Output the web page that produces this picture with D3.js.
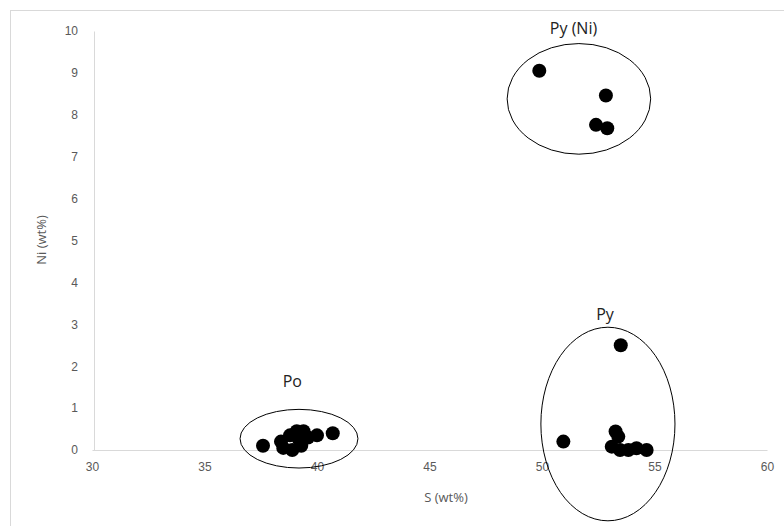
<!DOCTYPE html>
<html>
<head>
<meta charset="utf-8">
<script src="https://cdn.jsdelivr.net/npm/d3@7"></script>
<style>
  body { margin: 0; background: #fff; }
  svg { display: block; font-family: "Open Sans", "Noto Sans", sans-serif; }
</style>
</head>
<body>
<div id="chart"></div>
<script>
// S (wt%) vs Ni (wt%) measurements
const poS = [37.6, 38.4, 38.5, 38.8, 38.9, 39.1, 39.2, 39.3, 39.4, 39.6, 40.0, 40.7];
const poNi = [0.1, 0.2, 0.05, 0.35, 0.0, 0.45, 0.25, 0.1, 0.45, 0.3, 0.35, 0.4];
const pyS = [53.5, 50.95, 53.27, 53.39, 53.1, 53.47, 53.84, 54.2, 54.65];
const pyNi = [2.5, 0.2, 0.44, 0.32, 0.08, 0.0, 0.0, 0.04, 0.0];
const pyNiS = [49.88, 52.84, 52.4, 52.9];
const pyNiNi = [9.05, 8.46, 7.76, 7.68];

// group outlines: centre and radii in data units
const groupNames = ["Po", "Py", "Py (Ni)"];
const groupCx = [39.2, 52.93, 51.64];
const groupCy = [0.27, 0.62, 8.38];
const groupRx = [2.62, 2.98, 3.19];
const groupRy = [0.70, 2.31, 1.32];
// where each group name sits (data units, baseline)
const labelS = [38.9, 52.8, 51.4];
const labelNi = [1.5, 3.1, 9.93];

const xTicks = [30, 35, 40, 45, 50, 55, 60];
const yTicks = [0, 1, 2, 3, 4, 5, 6, 7, 8, 9, 10];

const width = 784, height = 526;
const svg = d3.select("#chart").append("svg")
    .attr("width", width)
    .attr("height", height);

// chart area border
svg.append("rect")
    .attr("x", 10.5).attr("y", 10.5)
    .attr("width", 800).attr("height", 600)
    .attr("fill", "none")
    .attr("stroke", "#d9d9d9");

const x = d3.scaleLinear().domain([30, 60]).range([92, 767]);
const y = d3.scaleLinear().domain([0, 10]).range([450, 31]);

// x axis
const xAxis = svg.append("g")
    .attr("transform", `translate(0,${y(0)})`)
    .call(d3.axisBottom(x).tickValues(xTicks).tickSize(0).tickPadding(12));
xAxis.select(".domain").attr("stroke", "#d9d9d9");
xAxis.selectAll("text").attr("fill", "#595959").style("font-size", "12px");

// y axis
const yAxis = svg.append("g")
    .attr("transform", `translate(${x(30) + 2},0)`)
    .call(d3.axisLeft(y).tickValues(yTicks).tickSize(0).tickPadding(16));
yAxis.select(".domain").attr("stroke", "#d9d9d9");
yAxis.selectAll("text").attr("fill", "#595959").style("font-size", "12px");

// axis titles
svg.append("text")
    .attr("x", 446).attr("y", 502)
    .attr("text-anchor", "middle")
    .attr("fill", "#595959")
    .style("font-size", "13px")
    .text("S (wt%)");

svg.append("text")
    .attr("transform", "rotate(-90)")
    .attr("x", -240).attr("y", 46)
    .attr("text-anchor", "middle")
    .attr("fill", "#595959")
    .style("font-size", "13px")
    .text("Ni (wt%)");

// points
const allS = poS.concat(pyS, pyNiS);
const allNi = poNi.concat(pyNi, pyNiNi);
svg.append("g").selectAll("circle")
    .data(allS.map((s, i) => ({ s: s, ni: allNi[i] })))
    .enter()
    .append("circle")
    .attr("cx", d => x(d.s))
    .attr("cy", d => y(d.ni))
    .attr("r", 7)
    .attr("fill", "#000");

// group ellipses
svg.append("g").selectAll("ellipse")
    .data(groupNames)
    .enter()
    .append("ellipse")
    .attr("cx", (d, i) => x(groupCx[i]))
    .attr("cy", (d, i) => y(groupCy[i]))
    .attr("rx", (d, i) => x(groupRx[i]) - x(0))
    .attr("ry", (d, i) => y(0) - y(groupRy[i]))
    .attr("fill", "none")
    .attr("stroke", "#000")
    .attr("stroke-width", 1);

// group labels
svg.append("g").selectAll("text")
    .data(groupNames)
    .enter()
    .append("text")
    .attr("x", (d, i) => x(labelS[i]))
    .attr("y", (d, i) => y(labelNi[i]))
    .attr("text-anchor", "middle")
    .attr("fill", "#222")
    .style("font-size", "16px")
    .text(d => d);
</script>
</body>
</html>
